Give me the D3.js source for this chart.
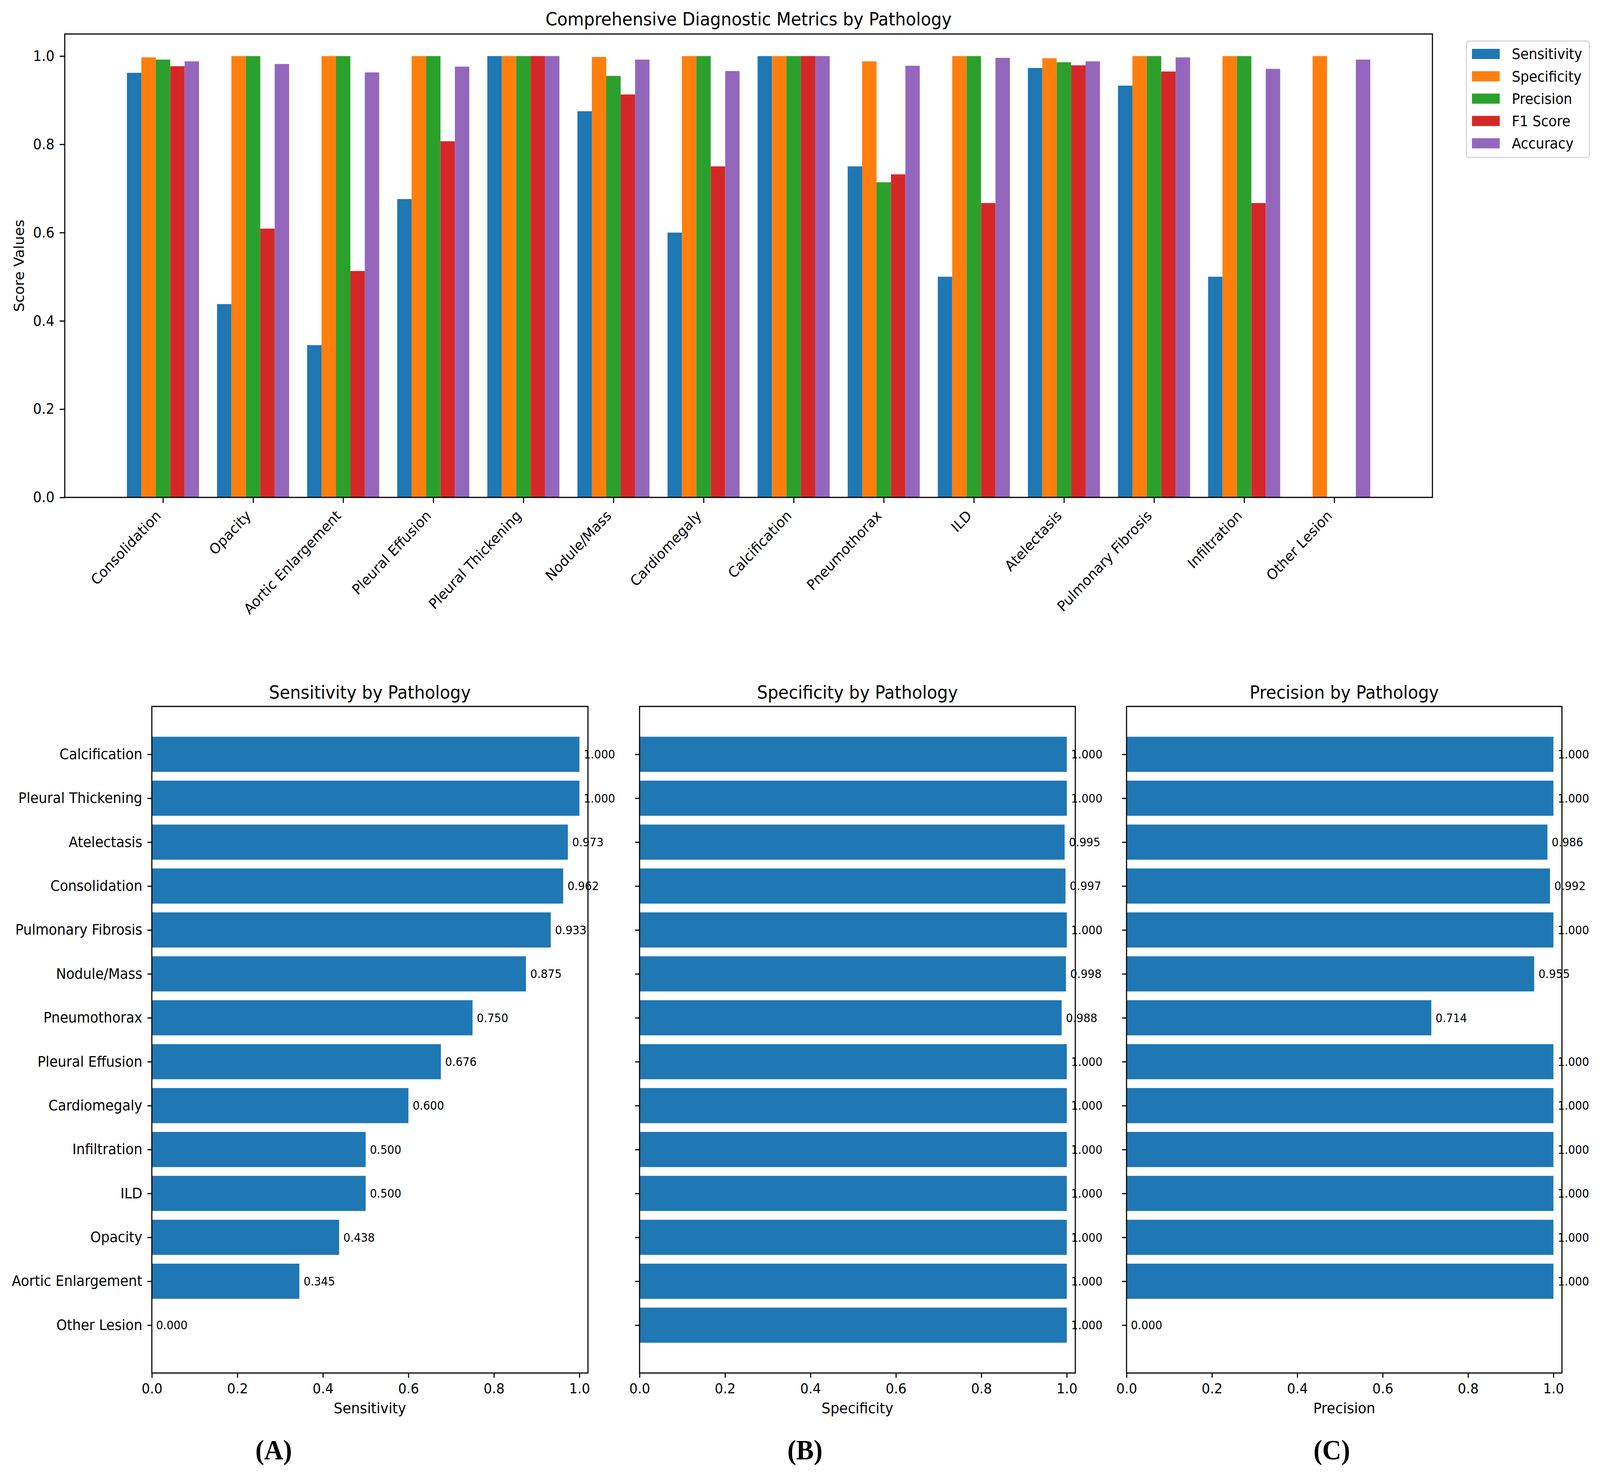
<!DOCTYPE html>
<html>
<head>
<meta charset="utf-8">
<script src="https://cdn.jsdelivr.net/npm/d3@7"></script>
<style>
  html, body { margin: 0; padding: 0; background: #fff; overflow: hidden; width: 100%; height: 100%; }
  #chart { width: 100vw; height: 100vh; }
  svg { display: block; width: 100vw; height: 100vh; }
  text { font-family: "DejaVu Sans", sans-serif; }
</style>
</head>
<body>
<div id="chart"></div>
<script>
// data
var pathologies = ["Consolidation", "Opacity", "Aortic Enlargement", "Pleural Effusion", "Pleural Thickening",
    "Nodule/Mass", "Cardiomegaly", "Calcification", "Pneumothorax", "ILD", "Atelectasis",
    "Pulmonary Fibrosis", "Infiltration", "Other Lesion"];
var sensitivity = [0.962, 0.438, 0.345, 0.676, 1.000, 0.875, 0.600, 1.000, 0.750, 0.500, 0.973, 0.933, 0.500, 0.000];
var specificity = [0.997, 1.000, 1.000, 1.000, 1.000, 0.998, 1.000, 1.000, 0.988, 1.000, 0.995, 1.000, 1.000, 1.000];
var precision   = [0.992, 1.000, 1.000, 1.000, 1.000, 0.955, 1.000, 1.000, 0.714, 1.000, 0.986, 1.000, 1.000, 0.000];
var f1Score     = [0.977, 0.609, 0.513, 0.807, 1.000, 0.913, 0.750, 1.000, 0.732, 0.667, 0.979, 0.965, 0.667, 0.000];
var accuracy    = [0.988, 0.982, 0.963, 0.976, 1.000, 0.992, 0.966, 1.000, 0.978, 0.996, 0.988, 0.997, 0.971, 0.992];

var metricNames = ["Sensitivity", "Specificity", "Precision", "F1 Score", "Accuracy"];
var metricColors = ["#1f77b4", "#ff7f0e", "#2ca02c", "#d62728", "#9467bd"];
var scoreTicks = [0, 0.2, 0.4, 0.6, 0.8, 1.0];
var panelTicks = [0, 0.2, 0.4, 0.6, 0.8, 1.0];
var panelLetters = ["(A)", "(B)", "(C)"];

// drawn in a 4373x3775 coordinate space, stretched to whatever the viewport is
var W = 4373, H = 3775;
var svg = d3.select("#chart").append("svg")
    .attr("viewBox", [0, 0, W, H])
    .attr("preserveAspectRatio", "none");
svg.append("rect").attr("width", W).attr("height", H).attr("fill", "#fff");

function styleAxis(sel, size) {
    sel.select(".domain").remove();
    sel.selectAll(".tick line").attr("stroke", "#000").attr("stroke-width", 3);
    sel.selectAll(".tick text").attr("fill", "#000")
        .style("font-size", size + "px")
        .style("font-family", '"DejaVu Sans", sans-serif');
}

// ---------- top: grouped bars ----------
var box = { l: 177, r: 3915, t: 87, b: 1273 };
var series = [sensitivity, specificity, precision, f1Score, accuracy];
var barW = 0.16;

var x = d3.scaleLinear().domain([-1.09, 14.09]).range([box.l, box.r]);
var y = d3.scaleLinear().domain([0, 1.05]).range([box.b, box.t]);

var g = svg.append("g");
series.forEach(function(vals, j) {
    g.append("g").selectAll("rect")
        .data(vals)
        .join("rect")
        .attr("x", (d, i) => x(i + (j - 2) * barW - barW / 2))
        .attr("width", x(barW) - x(0))
        .attr("y", d => y(d))
        .attr("height", d => y(0) - y(d))
        .attr("fill", metricColors[j]);
});

var yAx = g.append("g")
    .attr("transform", `translate(${box.l},0)`)
    .call(d3.axisLeft(y).tickValues(scoreTicks).tickFormat(d3.format(".1f")).tickSize(14).tickPadding(14));
styleAxis(yAx, 37);

var xAx = g.append("g")
    .attr("transform", `translate(0,${box.b})`)
    .call(d3.axisBottom(x).tickValues(d3.range(pathologies.length)).tickFormat(i => pathologies[i]).tickSize(14));
styleAxis(xAx, 37);
xAx.selectAll(".tick text")
    .attr("y", null).attr("dy", null)
    .attr("text-anchor", "end")
    .attr("transform", "translate(-4,49) rotate(-45)");

g.append("rect")
    .attr("x", box.l).attr("y", box.t)
    .attr("width", box.r - box.l).attr("height", box.b - box.t)
    .attr("fill", "none").attr("stroke", "#000").attr("stroke-width", 3);

g.append("text")
    .attr("x", (box.l + box.r) / 2).attr("y", 65)
    .attr("text-anchor", "middle")
    .style("font-size", "46px")
    .text("Comprehensive Diagnostic Metrics by Pathology");

g.append("text")
    .attr("transform", `translate(65,${(box.t + box.b) / 2}) rotate(-90)`)
    .attr("text-anchor", "middle")
    .style("font-size", "37px")
    .text("Score Values");

// legend
var legend = g.append("g");
legend.append("rect")
    .attr("x", 4008).attr("y", 105).attr("width", 336).attr("height", 298)
    .attr("rx", 7)
    .attr("fill", "#fff").attr("stroke", "#d6d6d6").attr("stroke-width", 3);
var li = legend.selectAll("g.item")
    .data(metricNames)
    .join("g")
    .attr("class", "item")
    .attr("transform", (d, i) => `translate(4023,${138 + i * 57.2})`);
li.append("rect")
    .attr("x", 0).attr("y", -13).attr("width", 76).attr("height", 26)
    .attr("fill", (d, i) => metricColors[i]);
li.append("text")
    .attr("x", 109).attr("dy", "0.36em")
    .style("font-size", "37px")
    .text(d => d);

// ---------- bottom: horizontal bars sorted by sensitivity ----------
var order = d3.range(pathologies.length).sort((a, b) => sensitivity[a] - sensitivity[b]);
var panels = [
    { name: "Sensitivity", vals: sensitivity, l: 415, r: 1607, letterX: 748 },
    { name: "Specificity", vals: specificity, l: 1748, r: 2939, letterX: 2200 },
    { name: "Precision", vals: precision, l: 3079, r: 4269, letterX: 3640 }
];
var pTop = 1808, pBot = 3514;
var yb = d3.scaleLinear().domain([-1.09, 14.09]).range([pBot, pTop]);
var fmt3 = d3.format(".3f");

panels.forEach(function(p, pi) {
    var xb = d3.scaleLinear().domain([0, 1.02]).range([p.l, p.r]);
    var pg = svg.append("g");

    pg.append("g").selectAll("rect")
        .data(order)
        .join("rect")
        .attr("x", xb(0))
        .attr("y", (d, k) => yb(k + 0.4))
        .attr("width", d => xb(p.vals[d]) - xb(0))
        .attr("height", (d, k) => yb(k - 0.4) - yb(k + 0.4))
        .attr("fill", "#1f77b4");

    pg.append("g").selectAll("text")
        .data(order)
        .join("text")
        .attr("x", d => xb(p.vals[d] + 0.01))
        .attr("y", (d, k) => yb(k))
        .attr("dy", "0.36em")
        .style("font-size", "30px")
        .text(d => fmt3(p.vals[d]));

    var ya = pg.append("g")
        .attr("transform", `translate(${p.l},0)`)
        .call(d3.axisLeft(yb).tickValues(d3.range(order.length))
            .tickFormat(k => pi === 0 ? pathologies[order[k]] : "")
            .tickSize(12).tickPadding(14));
    styleAxis(ya, 37);

    var xa = pg.append("g")
        .attr("transform", `translate(0,${pBot})`)
        .call(d3.axisBottom(xb).tickValues(panelTicks).tickFormat(d3.format(".1f")).tickSize(12).tickPadding(14));
    styleAxis(xa, 36);

    pg.append("rect")
        .attr("x", p.l).attr("y", pTop)
        .attr("width", p.r - p.l).attr("height", pBot - pTop)
        .attr("fill", "none").attr("stroke", "#000").attr("stroke-width", 3);

    pg.append("text")
        .attr("x", (p.l + p.r) / 2).attr("y", 1788)
        .attr("text-anchor", "middle")
        .style("font-size", "46px")
        .text(p.name + " by Pathology");

    pg.append("text")
        .attr("x", (p.l + p.r) / 2).attr("y", 3617)
        .attr("text-anchor", "middle")
        .style("font-size", "38px")
        .text(p.name);

    pg.append("text")
        .attr("x", p.letterX).attr("y", 3735)
        .attr("text-anchor", "middle")
        .style("font-family", '"Liberation Serif", "Times New Roman", serif')
        .style("font-weight", "bold")
        .style("font-size", "72px")
        .text(panelLetters[pi]);
});
</script>
</body>
</html>
